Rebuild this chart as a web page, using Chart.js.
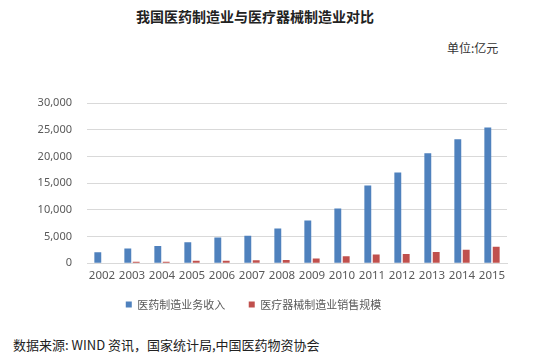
<!DOCTYPE html>
<html><head><meta charset="utf-8">
<script src="https://cdn.jsdelivr.net/npm/chart.js@4/dist/chart.umd.min.js"></script>
<style>
html,body{margin:0;padding:0;background:#fff;width:553px;height:359px;overflow:hidden;position:relative;}
.t{position:absolute;white-space:nowrap;font-family:"Noto Sans CJK SC",sans-serif;}
#title{left:0;width:510px;text-align:center;top:6px;font-size:14px;font-weight:bold;color:#222;}
#unit{left:447px;top:39px;font-size:12px;color:#333;}
#src{left:13px;top:335px;font-size:13px;color:#222;}
#wrap{position:absolute;left:0;top:80px;width:553px;height:240px;}
</style></head><body>
<div class="t" id="title">我国医药制造业与医疗器械制造业对比</div>
<div class="t" id="unit">单位:亿元</div>
<div id="wrap"><canvas id="c"></canvas></div>
<div class="t" id="src">数据来源: WIND 资讯，国家统计局,中国医药物资协会</div>
<script>
const years = ["2002","2003","2004","2005","2006","2007","2008","2009","2010","2011","2012","2013","2014","2015"];
const pharmaRevenue = [2050, 2750, 3200, 3920, 4800, 5120, 6480, 7980, 10250, 14550, 17000, 20580, 23200, 25400];
const deviceSales = [100, 250, 260, 480, 450, 560, 600, 880, 1300, 1630, 1700, 2080, 2500, 3100];
const seriesNames = ["医药制造业务收入", "医疗器械制造业销售规模"];
const yTicks = [0, 5000, 10000, 15000, 20000, 25000, 30000];

new Chart(document.getElementById('c'), {
  type: 'bar',
  data: {
    labels: years,
    datasets: [
      {label: seriesNames[0], data: pharmaRevenue, backgroundColor: '#4F81BD', categoryPercentage: 0.56, barPercentage: 0.82},
      {label: seriesNames[1], data: deviceSales, backgroundColor: '#C0504D', categoryPercentage: 0.56, barPercentage: 0.82}
    ]
  },
  options: {
    responsive: true, maintainAspectRatio: false, animation: false,
    layout: {padding: {left: 0, right: 46, top: 23, bottom: 0}},
    plugins: {
      tooltip: {enabled: false},
      legend: {
        position: 'bottom',
        labels: {boxWidth: 6, boxHeight: 6, padding: 10, color: '#595959',
          font: {family: '"Noto Sans CJK SC", sans-serif', size: 11},
          generateLabels: chart => {
            const items = Chart.defaults.plugins.legend.labels.generateLabels(chart);
            items[0].text = items[0].text + '\u3000 ';
            return items;
          }}
      }
    },
    scales: {
      x: {
        grid: {display: false, drawTicks: false},
        border: {display: true, color: '#d9d9d9'},
        ticks: {color: '#595959', padding: 6, font: {family: '"Noto Sans", sans-serif', size: 11.5}, maxRotation: 0}
      },
      y: {
        min: 0, max: 30000,
        afterBuildTicks: s => { s.ticks = yTicks.map(v => ({value: v})); },
        afterFit: s => { s.width = 87; },
        grid: {color: '#d9d9d9', drawTicks: false},
        border: {display: false},
        ticks: {color: '#595959', padding: 15, font: {family: '"Noto Sans", sans-serif', size: 11},
          callback: v => v.toLocaleString('en-US')}
      }
    }
  }
});
</script>
</body></html>
